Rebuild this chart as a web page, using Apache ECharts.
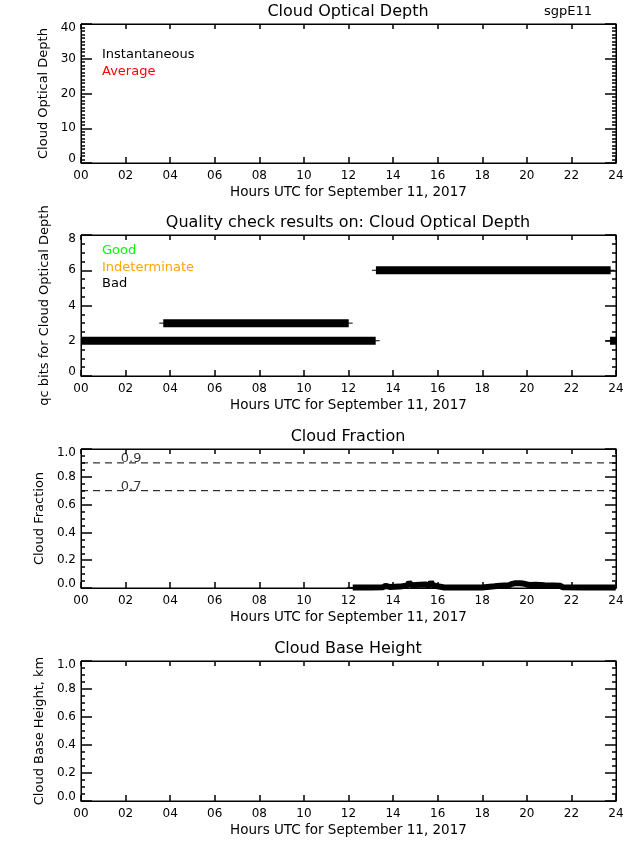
<!DOCTYPE html>
<html><head><meta charset="utf-8">
<script src="https://cdn.jsdelivr.net/npm/echarts@6/dist/echarts.min.js"></script>
<style>html,body{margin:0;padding:0;background:#fff}#c{width:640px;height:850px}</style>
</head><body><div id="c"></div>
<script>
// ---------- data ----------
const hourTicks = ['00','02','04','06','08','10','12','14','16','18','20','22','24'];
const codTicks = ['0','10','20','30','40'];
const qcTicks = ['0','2','4','6','8'];
const fracTicks = ['0.0','0.2','0.4','0.6','0.8','1.0'];
const cbhTicks = ['0.0','0.2','0.4','0.6','0.8','1.0'];

// QC segments (bad)
const qcBit   = [2, 3, 6, 2];
const qcStart = [0, 3.69, 13.23, 23.73];
const qcEnd   = [13.22, 12.01, 23.76, 24];

// Cloud fraction
const cfHour  = [12.19, 13.0, 13.55, 13.65, 13.75, 13.85, 14.3, 14.55, 14.65, 14.72, 14.85, 15.0, 15.2, 15.45, 15.55, 15.65, 15.7, 15.78, 16.0, 16.3, 18.0, 18.55, 18.8, 19.2, 19.35, 19.5, 19.7, 19.9, 20.1, 20.4, 20.8, 21.2, 21.5, 21.6, 22.5, 23.99];
const cfValue = [0.004, 0.004, 0.006, 0.014, 0.012, 0.008, 0.01, 0.016, 0.02, 0.04, 0.018, 0.022, 0.024, 0.026, 0.02, 0.022, 0.045, 0.02, 0.012, 0.004, 0.004, 0.012, 0.016, 0.02, 0.03, 0.035, 0.034, 0.03, 0.022, 0.024, 0.02, 0.018, 0.016, 0.006, 0.004, 0.004];
const cfThresholds = [0.9, 0.7];
const cfThresholdLabels = ['0.9', '0.7'];
const thresholdLabelHour = 2.25;

// ---------- layout ----------
const FONT = 'DejaVu Sans';
const panels = [
  {top: 24,  height: 139, ymin: 0, ymax: 40, interval: 10, minor: 10, ticks: codTicks,  yname: 'Cloud Optical Depth', nameGap: 30, title: 'Cloud Optical Depth'},
  {top: 235, height: 141, ymin: 0, ymax: 8,  interval: 2,  minor: 4,  ticks: qcTicks,   yname: 'qc bits for Cloud Optical Depth', nameGap: 30, title: 'Quality check results on: Cloud Optical Depth'},
  {top: 449, height: 139, ymin: 0, ymax: 1,  interval: 0.2, minor: 4, ticks: fracTicks, yname: 'Cloud Fraction', nameGap: 33, title: 'Cloud Fraction'},
  {top: 661, height: 140, ymin: 0, ymax: 1,  interval: 0.2, minor: 4, ticks: cbhTicks,  yname: 'Cloud Base Height, km', nameGap: 33, title: 'Cloud Base Height'}
];
const LEFT = 81, RIGHT = 24, CX = 348;
const TW = 1.5;

function axLine() { return {show: true, onZero: false, lineStyle: {color: '#000', width: 1}}; }
function tick(len) { return {show: true, inside: true, length: len, lineStyle: {color: '#000', width: TW}}; }
function minorTick(n) { return {show: true, splitNumber: n, length: 4, lineStyle: {color: '#000', width: TW}}; }

const grids = [], xAxes = [], yAxes = [], titles = [];
panels.forEach((p, i) => {
  grids.push({left: LEFT, right: RIGHT, top: p.top, height: p.height, show: true, borderColor: '#000', borderWidth: 1});
  titles.push({text: p.title, left: CX, top: p.top - 21, textAlign: 'center', padding: 0,
    textStyle: {fontFamily: FONT, fontSize: 16, fontWeight: 'normal', color: '#000', lineHeight: 18}});
  xAxes.push({type: 'value', gridIndex: i, min: 0, max: 24, interval: 2, position: 'bottom',
    axisLine: axLine(), axisTick: tick(6), splitLine: {show: false},
    axisLabel: {show: true, margin: 7, color: '#000', fontFamily: FONT, fontSize: 12,
      formatter: v => hourTicks[Math.round(v / 2)]},
    name: 'Hours UTC for September 11, 2017', nameLocation: 'middle', nameGap: 22,
    nameTextStyle: {fontFamily: FONT, fontSize: 13.5, color: '#000'}});
  xAxes.push({type: 'value', gridIndex: i, min: 0, max: 24, interval: 2, position: 'top',
    axisLine: axLine(), axisTick: tick(5), splitLine: {show: false}, axisLabel: {show: false}});
  const rs = () => ({fontFamily: FONT, fontSize: 12, color: '#000'});
  yAxes.push({type: 'value', gridIndex: i, min: p.ymin, max: p.ymax, interval: p.interval, position: 'left',
    axisLine: axLine(), axisTick: tick(11), minorTick: minorTick(p.minor), splitLine: {show: false},
    axisLabel: {show: true, margin: 5, color: '#000', fontFamily: FONT, fontSize: 12,
      formatter: v => {
        const k = Math.round((v - p.ymin) / p.interval);
        const s = p.ticks[k];
        if (k === 0) return '{lo|' + s + '}';
        if (k === p.ticks.length - 1) return '{hi|' + s + '}';
        return s;
      },
      rich: {lo: Object.assign({padding: [0, 0, 8, 0]}, rs()), hi: Object.assign({padding: [8, 0, 0, 0]}, rs())}},
    name: p.yname, nameLocation: 'middle', nameGap: p.nameGap,
    nameTextStyle: {fontFamily: FONT, fontSize: 13, color: '#000'}});
  yAxes.push({type: 'value', gridIndex: i, min: p.ymin, max: p.ymax, interval: p.interval, position: 'right',
    axisLine: axLine(), axisTick: tick(11), minorTick: minorTick(p.minor), splitLine: {show: false},
    axisLabel: {show: false}});
});
titles.push({text: 'sgpE11', left: 568, top: 4, textAlign: 'center', padding: 0,
  textStyle: {fontFamily: FONT, fontSize: 13, fontWeight: 'normal', color: '#000', lineHeight: 16}});

const series = [];
// panel 1 (empty)
series.push({name: 'Instantaneous', type: 'line', xAxisIndex: 0, yAxisIndex: 0, data: [], color: '#000'});
series.push({name: 'Average', type: 'line', xAxisIndex: 0, yAxisIndex: 0, data: [], color: '#ff0000'});
// panel 2
series.push({name: 'Good', type: 'line', xAxisIndex: 2, yAxisIndex: 2, data: [], color: '#00ff00'});
series.push({name: 'Indeterminate', type: 'line', xAxisIndex: 2, yAxisIndex: 2, data: [], color: '#ffa500'});
qcBit.forEach((b, k) => {
  const s = {value: [qcStart[k], b]}, e = {value: [qcEnd[k], b]};
  if (qcStart[k] <= 0) s.symbol = 'none';
  if (qcEnd[k] >= 24) e.symbol = 'none';
  series.push({name: 'Bad', type: 'line', xAxisIndex: 2, yAxisIndex: 2, color: '#000',
    symbol: 'rect', symbolSize: [8, 1], showSymbol: true,
    itemStyle: {color: '#000'},
    lineStyle: {color: '#000', width: 8, cap: 'butt'}, data: [s, e]});
});
// panel 3
cfThresholds.forEach(t => {
  series.push({type: 'line', xAxisIndex: 4, yAxisIndex: 4, symbol: 'none', silent: true,
    lineStyle: {color: '#000', width: 1, type: [7, 5]}, data: [[0, t], [24, t]]});
});
series.push({type: 'scatter', xAxisIndex: 4, yAxisIndex: 4, symbolSize: 0, silent: true,
  label: {show: true, position: 'top', distance: -2, color: '#000', fontFamily: FONT, fontSize: 13,
    formatter: q => q.data[2]},
  data: cfThresholds.map((t, k) => [thresholdLabelHour, t, cfThresholdLabels[k]])});
series.push({type: 'line', xAxisIndex: 4, yAxisIndex: 4, symbol: 'none', color: '#000',
  lineStyle: {color: '#000', width: 6},
  data: cfHour.map((h, k) => k === 0
    ? {value: [h, cfValue[k]], symbol: 'rect', symbolSize: [11, 1], itemStyle: {color: '#000'}}
    : [h, cfValue[k]])});

const legendCommon = () => ({orient: 'vertical', icon: 'none', itemWidth: 0, itemHeight: 14, itemGap: 3, padding: 0,
  selectedMode: false, textStyle: {fontFamily: FONT, fontSize: 13}});
const legends = [
  Object.assign(legendCommon(), {left: 97, top: 48, data: [
    {name: 'Instantaneous', textStyle: {color: '#000'}},
    {name: 'Average', textStyle: {color: '#ff0000'}}]}),
  Object.assign(legendCommon(), {left: 97, top: 244, data: [
    {name: 'Good', textStyle: {color: '#00ff00'}},
    {name: 'Indeterminate', textStyle: {color: '#ffa500'}},
    {name: 'Bad', textStyle: {color: '#000'}}]})
];

const chart = echarts.init(document.getElementById('c'), null, {renderer: 'canvas'});
chart.setOption({
  animation: false,
  title: titles, grid: grids, xAxis: xAxes, yAxis: yAxes, legend: legends, series: series
});
</script></body></html>
